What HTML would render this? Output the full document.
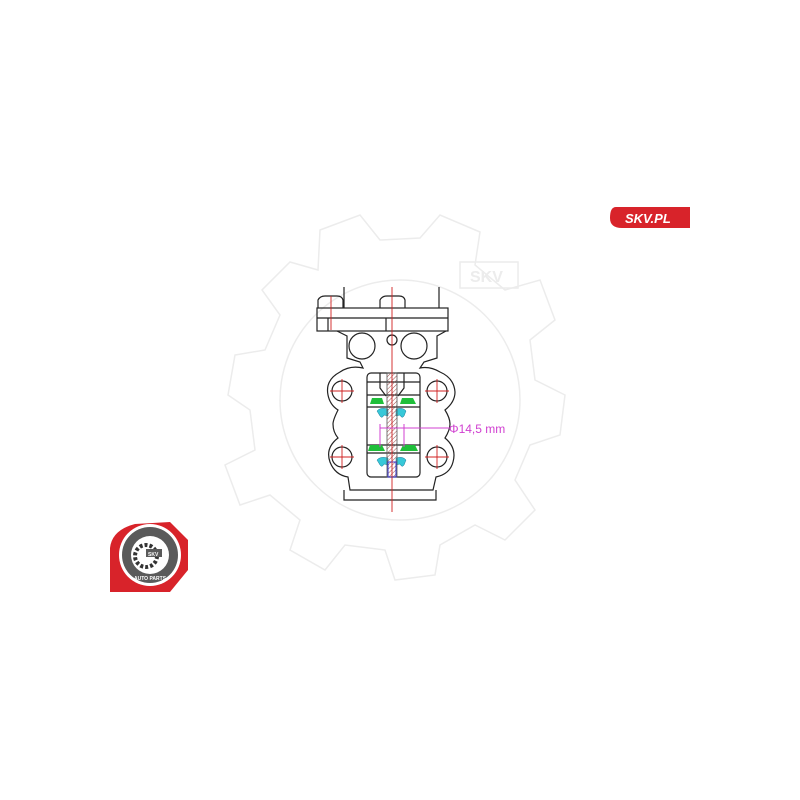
<!DOCTYPE html>
<html><head><meta charset="utf-8"><style>
html,body{margin:0;padding:0;background:#fff;}
svg{display:block;}
</style></head><body>
<svg width="800" height="800" viewBox="0 0 800 800" xmlns="http://www.w3.org/2000/svg" font-family="Liberation Sans, sans-serif">
<rect width="800" height="800" fill="#fff"/>
<g fill="none" stroke="#ececec" stroke-width="1.5">
<circle cx="400" cy="400" r="120"/>
<path d="M320 230 L360 215 L380 240 L420 238 L440 215 L480 232 L475 265 L505 290 L540 280 L555 320 L530 340 L535 380 L565 395 L560 435 L530 445 L515 480 L535 510 L505 540 L475 525 L440 545 L435 575 L395 580 L385 550 L345 545 L325 570 L290 550 L300 520 L270 495 L240 505 L225 465 L255 450 L250 410 L228 395 L235 355 L265 350 L280 315 L262 290 L290 262 L318 270 Z"/>
<rect x="460" y="262" width="58" height="26"/>
<text x="470" y="282" font-size="16" font-weight="bold" fill="#ececec" stroke="none">SKV</text>
</g>
<g fill="none" stroke="#222" stroke-width="1.2">
<line x1="344" y1="287" x2="344" y2="308"/>
<line x1="439" y1="287" x2="439" y2="308"/>
<path d="M318 308 L318 300 Q320 296 325 296 L337 296 Q342 296 343 300 L343 308"/>
<path d="M380 308 L380 300 Q382 296 387 296 L399 296 Q404 296 405 300 L405 308"/>
<rect x="317" y="308" width="131" height="23"/>
<line x1="317" y1="318" x2="448" y2="318"/>
<line x1="328" y1="318" x2="328" y2="331"/>
<line x1="386" y1="318" x2="386" y2="331"/>
<path d="M337 331 L347 336 L347 358 L360 362 L363 368 Q350 365 340 372 Q325 380 328 395 Q330 405 338 410 Q333 420 333 424 Q333 432 338 438 Q325 448 330 462 Q335 475 348 477 L350 490 L433 490 L436 477 Q450 474 453 462 Q457 448 445 438 Q450 430 450 424 Q450 418 445 410 Q455 402 455 392 Q454 378 440 372 Q430 366 420 368 L424 362 L437 358 L437 336 L446 331"/>
<path d="M344 490 L344 500 L436 500 L436 490"/>
<circle cx="362" cy="346" r="13"/>
<circle cx="414" cy="346" r="13"/>
<circle cx="392" cy="340" r="5"/>
<circle cx="342" cy="391" r="10"/>
<circle cx="437" cy="391" r="10"/>
<circle cx="342" cy="457" r="10"/>
<circle cx="437" cy="457" r="10"/>
<rect x="367" y="373" width="53" height="104" rx="4"/>
<line x1="367" y1="382" x2="420" y2="382"/>
<line x1="367" y1="395" x2="420" y2="395"/>
<line x1="367" y1="407" x2="420" y2="407"/>
<line x1="367" y1="445" x2="420" y2="445"/>
<line x1="367" y1="453" x2="420" y2="453"/>
<path d="M380 373 L380 388 L386 396"/>
<path d="M404 373 L404 388 L398 396"/>
</g>
<g fill="#1fbf3a">
<path d="M370 404 L372 398 L382 398 L384 404 Z"/>
<path d="M400 404 L402 398 L413 398 L416 404 Z"/>
<path d="M368 451 L370 445 L382 445 L385 451 Z"/>
<path d="M400 451 L403 445 L415 445 L418 451 Z"/>
</g>
<g fill="#37c8d8" stroke="#1a7c9a" stroke-width="0.5">
<path d="M377 411 Q380 407 388 409 L388 416 L384 415 Q382 419 380 416 Z"/>
<path d="M406 411 Q403 407 396 409 L396 416 L400 415 Q402 419 404 416 Z"/>
<path d="M377 460 Q380 456 388 458 L388 465 L384 464 Q382 468 380 465 Z"/>
<path d="M406 460 Q403 456 396 458 L396 465 L400 464 Q402 468 404 465 Z"/>
</g>
<defs><pattern id="h" width="3" height="3" patternUnits="userSpaceOnUse" patternTransform="rotate(45)"><line x1="0" y1="0" x2="0" y2="3" stroke="#a05050" stroke-width="1"/></pattern></defs>
<rect x="387" y="373" width="10" height="104" fill="url(#h)" stroke="#555" stroke-width="0.8"/>
<rect x="388" y="462" width="8" height="15" fill="none" stroke="#3333cc" stroke-width="1"/>
<g stroke="#d02020" stroke-width="0.9">
<line x1="392" y1="287" x2="392" y2="512"/>
<line x1="331" y1="296" x2="331" y2="330"/>
<line x1="330" y1="391" x2="354" y2="391"/><line x1="342" y1="379" x2="342" y2="403"/>
<line x1="425" y1="391" x2="449" y2="391"/><line x1="437" y1="379" x2="437" y2="403"/>
<line x1="330" y1="457" x2="354" y2="457"/><line x1="342" y1="445" x2="342" y2="469"/>
<line x1="425" y1="457" x2="449" y2="457"/><line x1="437" y1="445" x2="437" y2="469"/>
</g>
<g stroke="#d040d0" stroke-width="1" fill="none">
<line x1="380" y1="428" x2="450" y2="428"/>
<line x1="380" y1="424" x2="380" y2="447"/>
<line x1="404" y1="424" x2="404" y2="447"/>
</g>
<text x="449" y="433" font-size="12" fill="#d040d0">Φ14,5 mm</text>
<path d="M616 207 L690 207 L690 228 L622 228 Q610 228 610 218 Q610 207 616 207 Z" fill="#d8232a"/>
<text x="625" y="223" font-size="13" font-weight="bold" font-style="italic" fill="#fff">SKV.PL</text>
<path d="M110 592 L110 548 Q112 530 135 524 L170 522 L188 540 L188 570 L170 592 Z" fill="#d8232a"/>
<circle cx="150" cy="555" r="31" fill="#fff"/>
<circle cx="150" cy="555" r="28" fill="#5a5a5a"/>
<circle cx="150" cy="555" r="19" fill="#fff"/>
<circle cx="146" cy="556" r="11" fill="none" stroke="#333" stroke-width="4" stroke-dasharray="3 2"/>
<rect x="146" y="549" width="16" height="8" fill="#5a5a5a"/>
<text x="148" y="556" font-size="5" font-weight="bold" fill="#fff">SKV</text>
<text x="134" y="580" font-size="5" font-weight="bold" fill="#fff">AUTO PARTS</text>
</svg>
</body></html>
